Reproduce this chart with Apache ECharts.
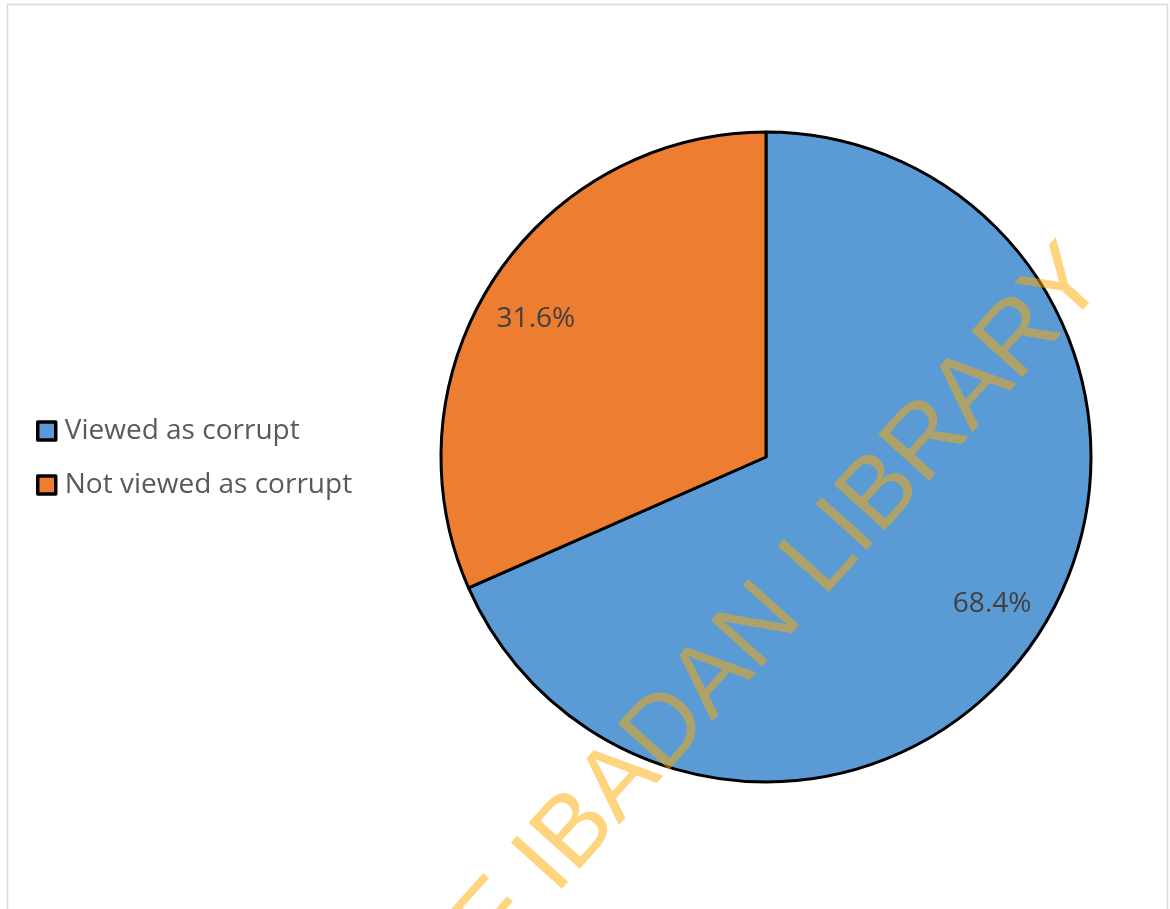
<!DOCTYPE html>
<html>
<head>
<meta charset="utf-8">
<script src="https://cdn.jsdelivr.net/npm/echarts@6/dist/echarts.min.js"></script>
<style>
  html, body { margin: 0; padding: 0; background: #ffffff; }
  #chart { width: 1170px; height: 909px; }
</style>
</head>
<body>
<div id="chart"></div>
<script>
// Share of respondents by perception
const categories = ['Viewed as corrupt', 'Not viewed as corrupt'];
const shares = [68.4, 31.6];
const sliceColors = ['#5B9BD5', '#ED7D31'];

const watermarkText = 'UNIVERSITY OF IBADAN LIBRARY';

const pieData = categories.map((name, i) => ({
  name: name,
  value: shares[i],
  itemStyle: { color: sliceColors[i] }
}));

const chart = echarts.init(document.getElementById('chart'), null, { renderer: 'canvas' });

const FONT = '"Open Sans", "Noto Sans", sans-serif';
const CENTER = [766, 457];
const R = 325;

chart.setOption({
  animation: false,
  backgroundColor: '#ffffff',
  legend: {
    orient: 'vertical',
    left: 31,
    top: 411,
    padding: 5,
    itemWidth: 18,
    itemHeight: 18,
    itemGap: 24,
    icon: 'rect',
    selectedMode: false,
    data: categories,
    itemStyle: { borderColor: '#000000', borderWidth: 3.5 },
    textStyle: { fontFamily: FONT, fontSize: 28, color: '#595959', lineHeight: 30, padding: [0, 0, 0, 4] }
  },
  series: [
    {
      // the visible pie
      type: 'pie',
      center: CENTER,
      radius: [0, R],
      startAngle: 90,
      clockwise: true,
      silent: true,
      data: pieData,
      itemStyle: { borderColor: '#000000', borderWidth: 3 },
      label: { show: false },
      labelLine: { show: false }
    },
    {
      // transparent ring that carries the value labels near the rim
      type: 'pie',
      center: CENTER,
      radius: [R * 0.643, R],
      startAngle: 90,
      clockwise: true,
      silent: true,
      data: pieData.map(d => ({ name: d.name, value: d.value, itemStyle: { color: 'rgba(0,0,0,0)' } })),
      itemStyle: { borderWidth: 0 },
      label: {
        show: true,
        position: 'inside',
        formatter: '{c}%',
        fontFamily: FONT,
        fontSize: 28,
        color: '#404040'
      },
      labelLine: { show: false },
      labelLayout: function (params) {
        return params.dataIndex === 1 ? { dx: -4, dy: 10 } : {};
      }
    }
  ],
  graphic: [
    {
      // chart frame
      type: 'rect',
      silent: true,
      z: 0,
      shape: { x: 7.5, y: 4.5, width: 1160, height: 1000 },
      style: { fill: 'none', stroke: '#d9d9d9', lineWidth: 1.5 }
    },
    {
      // diagonal library watermark over the chart
      type: 'text',
      silent: true,
      z: 100,
      x: 1088,
      y: 263,
      rotation: 48 * Math.PI / 180,
      style: {
        text: watermarkText,
        font: '100px "Liberation Sans", Arial, sans-serif',
        fill: 'rgba(255,170,0,0.5)',
        align: 'right',
        verticalAlign: 'middle'
      }
    }
  ]
});
</script>
</body>
</html>
